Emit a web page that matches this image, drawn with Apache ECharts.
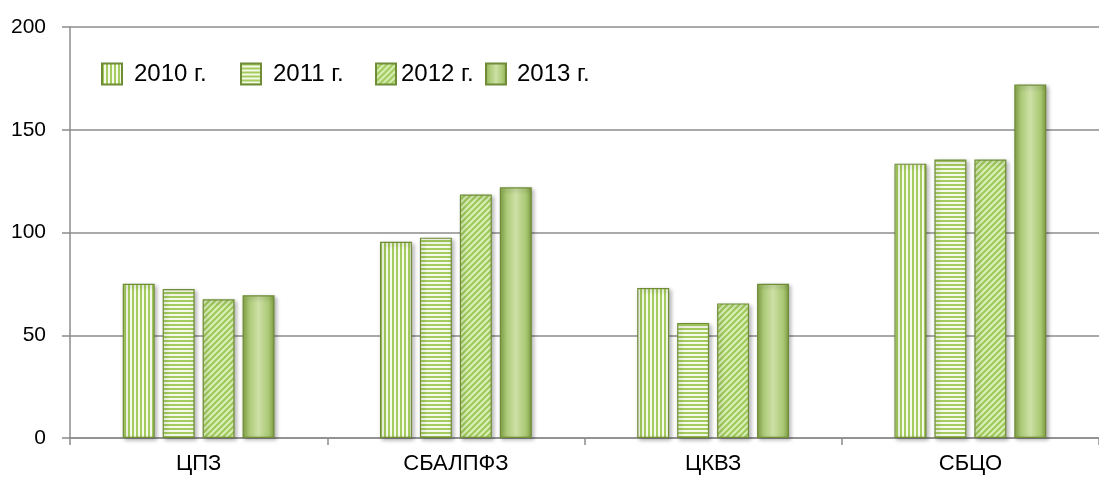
<!DOCTYPE html>
<html>
<head>
    <meta charset="utf-8">
    <title>chart</title>
    <script src="https://cdn.jsdelivr.net/npm/echarts@6/dist/echarts.min.js"></script>
</head>
<style>
    html, body { margin: 0; padding: 0; background: #fff; }
    #main { width: 1099px; height: 485px; }
</style>
<body>
<div id="main"></div>
<script>
    var categories = ['ЦПЗ', 'СБАЛПФЗ', 'ЦКВЗ', 'СБЦО'];
    var years = ['2010 г.', '2011 г.', '2012 г.', '2013 г.'];
    var v2010 = [75, 95.5, 73, 133.5];
    var v2011 = [72.5, 97.5, 56, 135.5];
    var v2012 = [67.5, 118.5, 65.5, 135.5];
    var v2013 = [69.5, 122, 75, 172];
    var yTicks = [0, 50, 100, 150, 200];

    // stripe patterns drawn on small canvases
    function stripes(kind) {
        var c = document.createElement('canvas');
        var s = kind == 'diag' ? 6 : 4;
        c.width = s; c.height = s;
        var g = c.getContext('2d');
        g.fillStyle = kind == 'diag' ? '#dcefb8' : '#f5faea';
        g.fillRect(0, 0, s, s);
        g.fillStyle = '#a5cc5e';
        if (kind == 'v') g.fillRect(0, 0, 2, s);
        if (kind == 'h') g.fillRect(0, 0, s, 2);
        if (kind == 'diag') {
            g.strokeStyle = '#9fca5c';
            g.lineWidth = 2.2;
            g.beginPath();
            g.moveTo(-1, 7); g.lineTo(7, -1);
            g.moveTo(-4, 4); g.lineTo(4, -4);
            g.moveTo(2, 10); g.lineTo(10, 2);
            g.stroke();
        }
        return {image: c, repeat: 'repeat'};
    }

    var solid = new echarts.graphic.LinearGradient(0, 0, 1, 0, [
        {offset: 0, color: '#86a548'},
        {offset: 0.18, color: '#a9c873'},
        {offset: 0.5, color: '#cde0a6'},
        {offset: 0.82, color: '#a9c873'},
        {offset: 1, color: '#7f9c42'}
    ]);

    var fills = [stripes('v'), stripes('h'), stripes('diag'), solid];
    var values = [v2010, v2011, v2012, v2013];

    var series = [];
    for (var i = 0; i < 4; i++) {
        series.push({
            name: years[i],
            type: 'bar',
            data: values[i],
            barGap: '25%',
            barCategoryGap: '41%',
            itemStyle: {
                color: fills[i],
                borderColor: '#6f8c36',
                borderWidth: 1.2,
                shadowColor: 'rgba(0,0,0,0.3)',
                shadowBlur: 4,
                shadowOffsetX: 2,
                shadowOffsetY: 2
            }
        });
    }

    // one legend per item so each can sit where it is in the picture
    var legLeft = [96, 235, 370, 480];
    var legPad = [7, 7, 0, 6];
    var legends = [];
    for (var j = 0; j < 4; j++) {
        legends.push({
            data: [years[j]],
            left: legLeft[j],
            top: 57,
            icon: 'rect',
            itemWidth: 20,
            itemHeight: 21,
            textStyle: {fontSize: 24, color: '#000', fontFamily: 'Liberation Sans', padding: [0, 0, 0, legPad[j]]}
        });
    }

    var myChart = echarts.init(document.getElementById('main'));
    var option = {
        animation: false,
        legend: legends,
        grid: {left: 70, top: 27, width: 1037, bottom: 47},
        xAxis: {
            type: 'category',
            data: categories,
            axisLine: {lineStyle: {color: '#8c8c8c', width: 1.5}},
            axisTick: {show: true, length: 7, lineStyle: {color: '#8c8c8c', width: 1.5}},
            axisLabel: {fontSize: 22, color: '#000', fontFamily: 'Liberation Sans', margin: 15}
        },
        yAxis: {
            type: 'value',
            min: yTicks[0],
            max: yTicks[yTicks.length - 1],
            interval: 50,
            axisLine: {show: true, lineStyle: {color: '#8c8c8c', width: 1.5}},
            axisTick: {show: true, length: 8, lineStyle: {color: '#8c8c8c', width: 1.5}},
            splitLine: {lineStyle: {color: '#8c8c8c', width: 1.5}},
            axisLabel: {fontSize: 21, color: '#000', fontFamily: 'Liberation Sans', margin: 24}
        },
        series: series
    };
    myChart.setOption(option);
</script>
</body>
</html>
